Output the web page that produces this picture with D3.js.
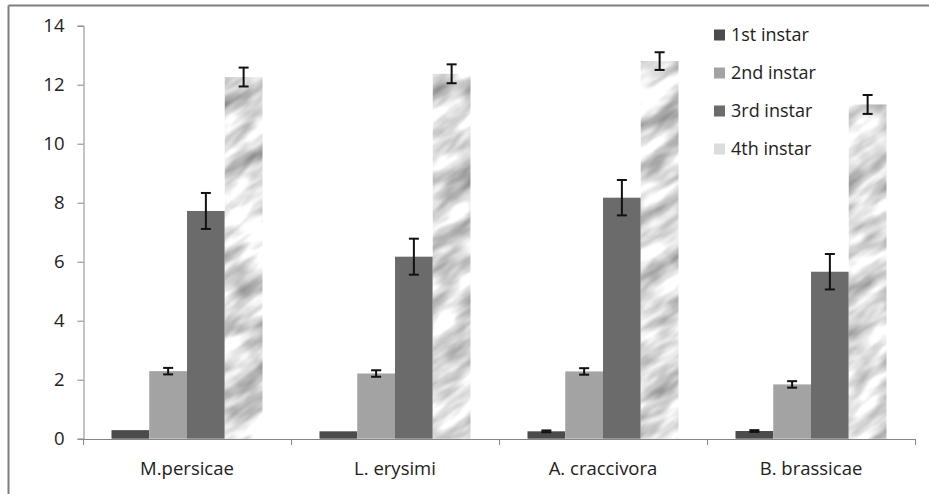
<!DOCTYPE html>
<html>
<head>
<meta charset="utf-8">
<script src="https://cdn.jsdelivr.net/npm/d3@7"></script>
<style>
  html, body { margin: 0; padding: 0; background: #fff; }
  svg { display: block; }
  text { font-family: "Open Sans", Lato, sans-serif; fill: #222; }
</style>
</head>
<body>
<svg id="chart" width="929" height="494"></svg>
<script>
// ---- data ----
const categories = ["M.persicae", "L. erysimi", "A. craccivora", "B. brassicae"];
const seriesNames = ["1st instar", "2nd instar", "3rd instar", "4th instar"];
const instar1 = [0.29, 0.25, 0.25, 0.26];
const instar2 = [2.29, 2.21, 2.28, 1.84];
const instar3 = [7.72, 6.17, 8.17, 5.66];
const instar4 = [12.26, 12.37, 12.80, 11.33];
const err1 = [0, 0, 0.03, 0.03];
const err2 = [0.11, 0.11, 0.11, 0.11];
const err3 = [0.61, 0.61, 0.60, 0.60];
const err4 = [0.32, 0.32, 0.30, 0.32];
const yTicks = [0, 2, 4, 6, 8, 10, 12, 14];

const values = [instar1, instar2, instar3, instar4];
const errors = [err1, err2, err3, err4];

const svg = d3.select("#chart");
const defs = svg.append("defs");

// marble-like texture for 4th instar
const filt = defs.append("filter").attr("id", "marbleF")
  .attr("x", 0).attr("y", 0).attr("width", 1).attr("height", 1)
  .attr("color-interpolation-filters", "sRGB");
filt.append("feTurbulence").attr("type", "fractalNoise")
  .attr("baseFrequency", "0.02 0.055").attr("numOctaves", 3).attr("seed", 11);
filt.append("feColorMatrix").attr("type", "matrix")
  .attr("values", "0.85 0 0 0 0.43  0.85 0 0 0 0.43  0.85 0 0 0 0.43  0 0 0 0 1");
const pat = defs.append("pattern").attr("id", "marble")
  .attr("patternUnits", "userSpaceOnUse")
  .attr("width", 1400).attr("height", 1400)
  .attr("x", -300).attr("y", -300)
  .attr("patternTransform", "rotate(-35)");
pat.append("rect").attr("width", 1400).attr("height", 1400)
  .attr("filter", "url(#marbleF)");

const colors = ["#4b4b4b", "#a3a3a3", "#6b6b6b", "url(#marble)"];
const legendColors = ["#4b4b4b", "#a3a3a3", "#6b6b6b", "#dcdcdc"];

// outer frame (left and top edges visible)
svg.append("line").attr("x1", 8.5).attr("x2", 8.5).attr("y1", 5.5).attr("y2", 494)
  .attr("stroke", "#7f7f7f").attr("stroke-width", 2);
svg.append("line").attr("x1", 8.5).attr("x2", 929).attr("y1", 5.5).attr("y2", 5.5)
  .attr("stroke", "#7f7f7f").attr("stroke-width", 2);

// scales
const x0 = d3.scaleBand().domain(categories).range([83, 915]).paddingInner(0).paddingOuter(0);
const x1 = d3.scaleBand().domain(d3.range(4)).range([0, x0.bandwidth()])
  .paddingInner(0).paddingOuter(0.755);
const y = d3.scaleLinear().domain([0, 14]).range([438.7, 25.7]);

// axes
const yAxis = d3.axisLeft(y).tickValues(yTicks).tickSize(6).tickPadding(13);
const gy = svg.append("g").attr("transform", "translate(83.5,0)").call(yAxis);
gy.select(".domain").attr("stroke", "#868686");
gy.selectAll(".tick line").attr("stroke", "#868686");
gy.selectAll(".tick text").style("font-size", "18.5px").attr("fill", "#222");

// bars
categories.forEach((c, ci) => {
  values.forEach((arr, si) => {
    svg.append("rect")
      .attr("x", x0(c) + x1(si))
      .attr("y", y(arr[ci]))
      .attr("width", x1.bandwidth())
      .attr("height", y(0) - y(arr[ci]))
      .attr("fill", colors[si]);
  });
});

// x axis
const xAxis = d3.axisBottom(x0).tickSize(0).tickPadding(23);
const gx = svg.append("g").attr("transform", `translate(0,${y(0) + 0.3})`).call(xAxis);
gx.select(".domain").attr("stroke", "#868686");
gx.selectAll(".tick text").style("font-size", "18.5px").attr("fill", "#222");
// category boundary ticks
const bounds = categories.map(c => x0(c)).concat([x0.range()[1]]);
gx.selectAll(".btick").data(bounds).enter().append("line")
  .attr("x1", d => d + 0.5).attr("x2", d => d + 0.5).attr("y1", 0).attr("y2", 6)
  .attr("stroke", "#868686");

// error bars
categories.forEach((c, ci) => {
  values.forEach((arr, si) => {
    const e = errors[si][ci];
    if (!e) return;
    const cx = x0(c) + x1(si) + x1.bandwidth() / 2;
    const top = y(arr[ci] + e), bot = y(arr[ci] - e);
    const g = svg.append("g").attr("stroke", "#111").attr("stroke-width", 2);
    g.append("line").attr("x1", cx).attr("x2", cx).attr("y1", top).attr("y2", bot);
    g.append("line").attr("x1", cx - 5).attr("x2", cx + 5).attr("y1", top).attr("y2", top);
    g.append("line").attr("x1", cx - 5).attr("x2", cx + 5).attr("y1", bot).attr("y2", bot);
  });
});

// legend
const legendY = [35, 73, 111, 149];
seriesNames.forEach((s, i) => {
  svg.append("rect").attr("x", 714).attr("y", legendY[i] - 5.5)
    .attr("width", 11).attr("height", 11).attr("fill", legendColors[i]);
  svg.append("text").attr("x", 731).attr("y", legendY[i]).attr("dy", "0.35em")
    .style("font-size", "18px").text(s);
});
</script>
</body>
</html>
